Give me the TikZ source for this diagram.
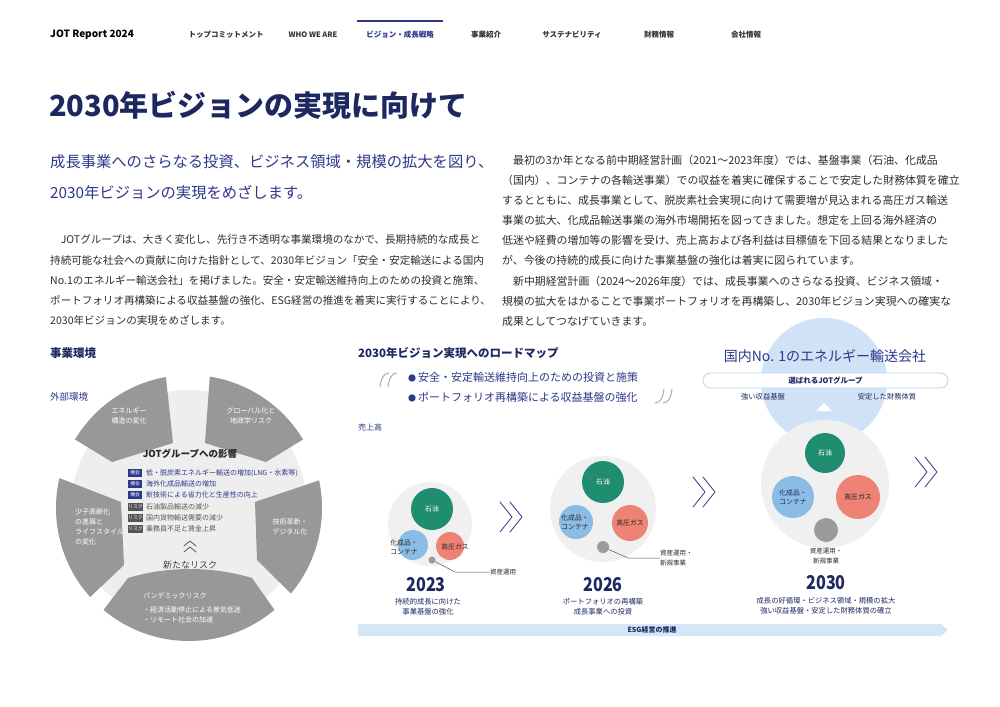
\documentclass[tikz,border=0pt]{standalone}
\usepackage{fontspec}
\setmainfont{Noto Sans CJK JP}
\usetikzlibrary{calc,positioning}
\definecolor{navy}{RGB}{30,40,96}
\definecolor{jotblue}{RGB}{46,56,138}
\definecolor{bodytext}{RGB}{45,45,45}
\definecolor{seggrey}{RGB}{152,152,152}
\definecolor{diskgrey}{RGB}{238,238,238}
\definecolor{bubgrey}{RGB}{240,240,240}
\definecolor{oilgreen}{RGB}{32,140,112}
\definecolor{chemblue}{RGB}{138,188,230}
\definecolor{gassalmon}{RGB}{238,130,116}
\definecolor{dotgrey}{RGB}{155,155,155}
\definecolor{visionblue}{RGB}{207,226,246}
\definecolor{esgblue}{RGB}{214,230,247}
\definecolor{pillline}{RGB}{190,212,238}
\definecolor{riskgrey}{RGB}{85,85,85}
\begin{document}
\begin{tikzpicture}[x=1pt,y=-1pt, line join=round, line cap=round,
  every node/.style={inner sep=0pt},
  nav/.style={font=\bfseries\fontsize{7.5}{9}\selectfont, text=black!80},
  body/.style={font=\fontsize{10.9}{12}\selectfont, text=bodytext, anchor=west},
  head/.style={font=\bfseries\fontsize{11.5}{13}\selectfont, text=navy, anchor=west},
  segtxt/.style={font=\fontsize{7}{10}\selectfont, text=white, align=center},
  tagbox/.style={fill=#1, text=white, font=\fontsize{4.8}{5}\selectfont, minimum width=14pt, minimum height=7.5pt, anchor=west},
  item/.style={font=\fontsize{7}{8}\selectfont, anchor=west},
  bubble/.style={circle, fill=#1},
  intxt/.style={font=\fontsize{6.8}{9}\selectfont, align=center, text=black!85},
  year/.style={font=\bfseries\fontsize{19}{20}\selectfont, text=navy},
  capline/.style={font=\fontsize{7.3}{10}\selectfont, text=navy, align=center},
  note/.style={font=\fontsize{6.5}{10}\selectfont, text=bodytext, align=left},
  chev/.style={draw=jotblue, line width=0.8pt},
  quotemark/.style={draw=black!35, line width=0.9pt},
  leader/.style={draw=black!65, line width=0.5pt}]
\fill[white] (0,0) rectangle (1000,706);
\useasboundingbox (0,0) rectangle (1000,706);

\node[font=\bfseries\fontsize{10}{11}\selectfont, anchor=west] (brand) at (50,35) {JOT Report 2024};
\foreach \x/\t/\c [count=\i] in {226/トップコミットメント/black!80, 313/WHO WE ARE/black!80, 400/ビジョン・成長戦略/jotblue, 486/事業紹介/black!80, 572/サステナビリティ/black!80, 659/財務情報/black!80, 746/会社情報/black!80}
  \node[nav, text=\c] (nav\i) at (\x,35) {\t};
\draw[jotblue, line width=1.4pt, line cap=butt] (357,21) -- (443,21);

\node[font=\bfseries\fontsize{29}{31}\selectfont, text=navy, anchor=west] (title) at (49,105) {2030年ビジョンの実現に向けて};
\node[font=\fontsize{15.3}{16}\selectfont, text=jotblue, anchor=west] (lead1) at (50,162) {成長事業へのさらなる投資、ビジネス領域・規模の拡大を図り、};
\node[font=\fontsize{15.3}{16}\selectfont, text=jotblue, anchor=west] (lead2) at (50,193) {2030年ビジョンの実現をめざします。};

\foreach \ln [count=\i] in {{　JOTグループは、大きく変化し、先行き不透明な事業環境のなかで、長期持続的な成長と},
  {持続可能な社会への貢献に向けた指針として、2030年ビジョン「安全・安定輸送による国内},
  {No.1のエネルギー輸送会社」を掲げました。安全・安定輸送維持向上のための投資と施策、},
  {ポートフォリオ再構築による収益基盤の強化、ESG経営の推進を着実に実行することにより、},
  {2030年ビジョンの実現をめざします。}}
  \node[body, font=\fontsize{10.55}{12}\selectfont] (left\i) at (50,{240+20.2*(\i-1)}) {\ln};
\foreach \ln [count=\i] in {{　最初の3か年となる前中期経営計画（2021～2023年度）では、基盤事業（石油、化成品},
  {（国内）、コンテナの各輸送事業）での収益を着実に確保することで安定した財務体質を確立},
  {するとともに、成長事業として、脱炭素社会実現に向けて需要増が見込まれる高圧ガス輸送},
  {事業の拡大、化成品輸送事業の海外市場開拓を図ってきました。想定を上回る海外経済の},
  {低迷や経費の増加等の影響を受け、売上高および各利益は目標値を下回る結果となりました},
  {が、今後の持続的成長に向けた事業基盤の強化は着実に図られています。},
  {　新中期経営計画（2024～2026年度）では、成長事業へのさらなる投資、ビジネス領域・},
  {規模の拡大をはかることで事業ポートフォリオを再構築し、2030年ビジョン実現への確実な},
  {成果としてつなげていきます。}}
  \node[body] (right\i) at (502,{160+20.15*(\i-1)}) {\ln};

\node[head] (envhead) at (50,353) {事業環境};
\node[font=\fontsize{9.5}{10}\selectfont, text=jotblue, anchor=west] (outside) at (50,397) {外部環境};
\coordinate (ring) at (189,508);
\fill[diskgrey] (ring) circle[radius=118pt];
\foreach \aa/\ab/\pb/\pa in {100/149/{112,462}/{173,443}, 31/81/{205,443}/{266,462}, -40/12/{255,502}/{257,560}, 167/222/{124,565}/{121,502}}
  \fill[seggrey] ($(ring)+(\aa:133pt)$) arc[start angle=\aa, end angle=\ab, radius=133pt]
    -- (\pb) -- (\pa) -- cycle;
\fill[seggrey] ($(ring)+(230:133pt)$) arc[start angle=230, end angle=310, radius=133pt]
  -- (252,578) .. controls (212,566) and (168,566) .. (128,578) -- cycle;
\node[segtxt] (envE) at (129,416) {エネルギー\\構造の変化};
\node[segtxt] (envG) at (251,416) {グローバル化と\\地政学リスク};
\node[segtxt, align=left, anchor=west] (envP) at (75,527) {少子高齢化\\の進展と\\ライフスタイル\\の変化};
\node[segtxt] (envT) at (290,527) {技術革新・\\デジタル化};
\node[segtxt, align=left, anchor=west] (envR) at (143,608) {パンデミックリスク\\[4pt]・経済活動停止による景気低迷\\・リモート社会の加速};

\node[font=\bfseries\fontsize{9.5}{10}\selectfont, text=black!85] (impact) at (190,454) {JOTグループへの影響};
\foreach \y/\t/\c/\s [count=\i] in {473/機会/jotblue/{低・脱炭素エネルギー輸送の増加(LNG・水素等)},
  484/機会/jotblue/{海外化成品輸送の増加}, 495/機会/jotblue/{新技術による省力化と生産性の向上},
  507/リスク/riskgrey/{石油製品輸送の減少}, 518/リスク/riskgrey/{国内貨物輸送需要の減少},
  529/リスク/riskgrey/{乗務員不足と賃金上昇}}{
  \node[tagbox=\c] (tag\i) at (128,\y) {\t};
  \node[item, text=\c] (itm\i) at (146,\y) {\s};
}
\draw[riskgrey, line width=0.8pt] (184,546) -- (190,541) -- (196,546) (184,552) -- (190,547) -- (196,552);
\node[font=\fontsize{9}{10}\selectfont, text=black!75] (newrisk) at (190,565) {新たなリスク};

\node[head] (maphead) at (358,353) {2030年ビジョン実現へのロードマップ};
\foreach \qx in {380,388}
  \draw[quotemark] (\qx,387) .. controls (\qx+1,378) and (\qx+4,373) .. (\qx+9,373);
\foreach \qx in {672,664}
  \draw[quotemark] (\qx,389) .. controls (\qx-1,398) and (\qx-4,403) .. (\qx-9,403);
\node[font=\fontsize{11}{12}\selectfont, text=jotblue, anchor=west] (goal1) at (408,377) {{\fontsize{8}{8}\selectfont●}\,安全・安定輸送維持向上のための投資と施策};
\node[font=\fontsize{11}{12}\selectfont, text=jotblue, anchor=west] (goal2) at (408,397) {{\fontsize{8}{8}\selectfont●}\,ポートフォリオ再構築による収益基盤の強化};
\node[font=\fontsize{8}{9}\selectfont, text=jotblue, anchor=west] (sales) at (358,427) {売上高};

\node[bubble=bubgrey, minimum size=84pt] (b23) at (430,524) {};
\node[bubble=oilgreen, minimum size=42pt] (oil23) at (432,509) {};
\node[bubble=chemblue, minimum size=30pt] (chem23) at (413,545) {};
\node[bubble=gassalmon, minimum size=28pt] (gas23) at (450,546) {};
\node[bubble=dotgrey, minimum size=7pt] (new23) at (432,560) {};
\node[intxt, text=white] (oil23t) at (oil23) {石油};
\node[intxt] (chem23t) at (404,547) {化成品・\\コンテナ};
\node[intxt] (gas23t) at (455,547) {高圧ガス};
\node[note, anchor=west] (new23t) at (490,572) {資産運用};
\draw[leader] (new23) -- (455,572) -- (new23t.west);
\node[year] (y23) at (426,585) {\scalebox{0.85}[1]{2023}};
\node[capline] (c23) at (428,607) {持続的成長に向けた\\事業基盤の強化};

\foreach \cx/\cy in {500/517, 693/492, 915/472}{
  \draw[chev] (\cx,\cy-15) -- (\cx+12,\cy) -- (\cx,\cy+15);
  \draw[chev] (\cx+10,\cy-15) -- (\cx+22,\cy) -- (\cx+10,\cy+15);
}

\node[bubble=bubgrey, minimum size=106pt] (b26) at (603,509) {};
\node[bubble=oilgreen, minimum size=42pt] (oil26) at (603,482) {};
\node[bubble=chemblue, minimum size=34pt] (chem26) at (576,522) {};
\node[bubble=gassalmon, minimum size=36pt] (gas26) at (630,523) {};
\node[bubble=dotgrey, minimum size=12pt] (new26) at (603,547) {};
\node[intxt, text=white] (oil26t) at (oil26) {石油};
\node[intxt] (chem26t) at (575,522) {化成品・\\コンテナ};
\node[intxt] (gas26t) at (gas26) {高圧ガス};
\node[note, anchor=west] (new26t) at (660,558) {資産運用・\\新規事業};
\draw[leader] (new26) -- (628,558) -- (new26t.west);
\node[year] (y26) at (603,585) {\scalebox{0.85}[1]{2026}};
\node[capline] (c26) at (603,607) {ポートフォリオの再構築\\成長事業への投資};

\node[bubble=visionblue, minimum size=126pt] (vis) at (824,381) {};
\node[font=\fontsize{14}{15}\selectfont, text=jotblue] (no1) at (825,356) {国内No. 1のエネルギー輸送会社};
\node[draw=pillline, fill=white, rounded corners=7.5pt, minimum width=245pt, minimum height=15pt, line width=0.8pt, font=\bfseries\fontsize{7.5}{8}\selectfont, text=navy] (pill) at (825.5,380.5) {選ばれるJOTグループ};
\node[capline] (strong) at (763,397) {強い収益基盤};
\node[capline] (stable) at (887,397) {安定した財務体質};
\fill[white] (816,411) -- (832,411) -- (824,403) -- cycle;
\node[bubble=bubgrey, minimum size=128pt] (b30) at (825,484) {};
\node[bubble=oilgreen, minimum size=40pt] (oil30) at (825,453) {};
\node[bubble=chemblue, minimum size=42pt] (chem30) at (793,497) {};
\node[bubble=gassalmon, minimum size=44pt] (gas30) at (858,497) {};
\node[bubble=dotgrey, minimum size=24pt] (new30) at (826,530) {};
\node[intxt, text=white] (oil30t) at (oil30) {石油};
\node[intxt, text=navy] (chem30t) at (chem30) {化成品・\\コンテナ};
\node[intxt] (gas30t) at (gas30) {高圧ガス};
\node[note, align=center] (new30t) at (826,556) {資産運用・\\新規事業};
\node[year] (y30) at (826,583) {\scalebox{0.85}[1]{2030}};
\node[capline] (c30) at (826,606) {成長の好循環・ビジネス領域・規模の拡大\\強い収益基盤・安定した財務体質の確立};

\fill[esgblue] (358,624) -- (941,624) -- (948,630) -- (941,636) -- (358,636) -- cycle;
\node[font=\bfseries\fontsize{7}{8}\selectfont, text=navy] (esg) at (652,630) {ESG経営の推進};
\end{tikzpicture}
\end{document}
